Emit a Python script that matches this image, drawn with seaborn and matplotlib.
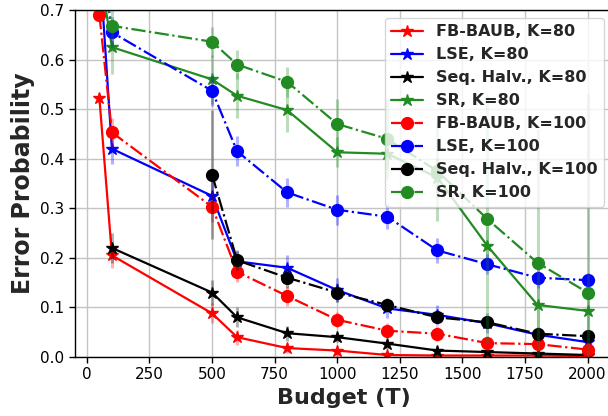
import numpy as np
import pandas as pd
import matplotlib
matplotlib.use("Agg")
import matplotlib.pyplot as plt
import seaborn as sns

budgets = [50, 100, 500, 600, 800, 1000, 1200, 1400, 1600, 1800, 2000]

# K = 80 (solid lines, star markers)
fb_k80 = [0.522, 0.205, 0.088, 0.040, 0.018, 0.013, 0.004, 0.003, 0.003, 0.003, 0.002]
lse_k80 = [0.80, 0.420, 0.325, 0.193, 0.180, 0.135, 0.098, 0.085, 0.068, 0.045, 0.030]
sh_k80 = [None, 0.220, 0.130, 0.080, 0.048, 0.040, 0.027, 0.013, 0.010, 0.007, 0.004]
sr_k80 = [0.78, 0.625, 0.560, 0.527, 0.498, 0.413, 0.410, 0.362, 0.224, 0.105, 0.093]

# K = 100 (dash-dot lines, circle markers)
fb_k100 = [0.690, 0.453, 0.303, 0.172, 0.123, 0.075, 0.053, 0.047, 0.028, 0.026, 0.015]
lse_k100 = [0.83, 0.655, 0.537, 0.415, 0.332, 0.297, 0.283, 0.215, 0.187, 0.160, 0.155]
sh_k100 = [None, None, 0.368, 0.195, 0.160, 0.130, 0.105, 0.080, 0.070, 0.047, 0.042]
sr_k100 = [0.80, 0.668, 0.636, 0.590, 0.555, 0.470, 0.440, 0.375, 0.278, 0.190, 0.130]

# error bar half-widths
fb_k80_err = [0.010, 0.025, 0.020, 0.015, 0.010, 0.010, 0.005, 0.005, 0.005, 0.005, 0.005]
lse_k80_err = [0.03, 0.030, 0.030, 0.020, 0.025, 0.025, 0.020, 0.020, 0.020, 0.015, 0.010]
sh_k80_err = [None, 0.030, 0.025, 0.020, 0.015, 0.010, 0.010, 0.010, 0.010, 0.008, 0.006]
sr_k80_err = [0.05, 0.055, 0.050, 0.045, 0.045, 0.030, 0.030, 0.040, 0.040, 0.050, 0.050]
fb_k100_err = [0.010, 0.030, 0.030, 0.020, 0.020, 0.015, 0.015, 0.015, 0.015, 0.015, 0.015]
lse_k100_err = [0.03, 0.030, 0.030, 0.030, 0.030, 0.030, 0.025, 0.025, 0.020, 0.020, 0.015]
sh_k100_err = [None, None, 0.130, 0.020, 0.020, 0.020, 0.015, 0.012, 0.010, 0.010, 0.010]
sr_k100_err = [0.05, 0.050, 0.030, 0.030, 0.030, 0.050, 0.080, 0.100, 0.250, 0.270, 0.400]

series = [
    ("FB-BAUB, K=80", fb_k80, fb_k80_err, "red", "*", "-"),
    ("LSE, K=80", lse_k80, lse_k80_err, "blue", "*", "-"),
    ("Seq. Halv., K=80", sh_k80, sh_k80_err, "black", "*", "-"),
    ("SR, K=80", sr_k80, sr_k80_err, "forestgreen", "*", "-"),
    ("FB-BAUB, K=100", fb_k100, fb_k100_err, "red", "o", "-."),
    ("LSE, K=100", lse_k100, lse_k100_err, "blue", "o", "-."),
    ("Seq. Halv., K=100", sh_k100, sh_k100_err, "black", "o", "-."),
    ("SR, K=100", sr_k100, sr_k100_err, "forestgreen", "o", "-."),
]

sns.set_theme(style="ticks", rc={
    "axes.edgecolor": "black",
    "axes.linewidth": 1.0,
    "axes.grid": True,
    "grid.color": "#c4c4c4",
    "grid.linewidth": 1.0,
    "xtick.color": "black",
    "ytick.color": "black",
})
plt.rcParams["font.family"] = ["DejaVu Sans"]

fig = plt.figure(figsize=(6.08, 4.16), dpi=100)
ax = fig.add_axes([75 / 608, 59 / 416, 537 / 608, 347 / 416])

for label, vals, errs, color, marker, ls in series:
    df = pd.DataFrame({"x": budgets, "y": vals, "e": errs}).dropna()
    ax.errorbar(df["x"], df["y"], yerr=df["e"], fmt="none", ecolor=color,
                alpha=0.3, elinewidth=2.2, capsize=0)
    sns.lineplot(data=df, x="x", y="y", color=color, marker=marker,
                 linestyle=ls, linewidth=1.6,
                 markersize=9 if marker == "*" else 8.5,
                 markeredgecolor=color, markeredgewidth=1.0,
                 label=label, ax=ax, estimator=None, sort=False)

ax.set_xlim(-47.5, 2097.5)
ax.set_ylim(0, 0.7)
ax.set_xticks([0, 250, 500, 750, 1000, 1250, 1500, 1750, 2000])
ax.set_yticks([0.0, 0.1, 0.2, 0.3, 0.4, 0.5, 0.6, 0.7])
ax.set_yticklabels([f"{v:.1f}" for v in ax.get_yticks()])
ax.tick_params(labelsize=11, length=4, width=1)
ax.set_xlabel("Budget (T)", fontsize=16, fontweight="bold")
ax.set_ylabel("Error Probability", fontsize=17, fontweight="bold")

ax.legend(loc="upper right", prop={"weight": "bold", "size": 11.5},
          labelspacing=0.5, framealpha=0.8, edgecolor="0.8", fancybox=True)

fig.savefig("out.png", dpi=100)
